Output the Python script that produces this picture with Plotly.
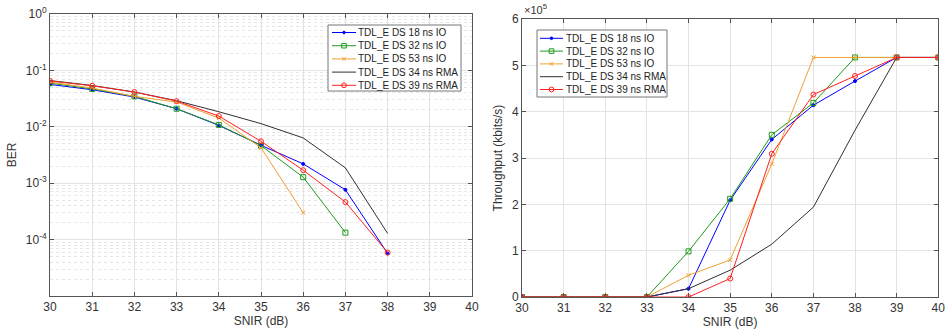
import plotly.graph_objects as go

snir = [30, 31, 32, 33, 34, 35, 36, 37, 38, 39, 40]

# BER (left panel)
ber_x_18 = [30, 31, 32, 33, 34, 35, 36, 37, 38]
ber_18 = [0.0564, 0.0454, 0.0337, 0.0209, 0.0106, 0.00471, 0.0022, 0.000765, 5.7e-5]
ber_x_32 = [30, 31, 32, 33, 34, 35, 36, 37]
ber_32 = [0.0595, 0.047, 0.0346, 0.0209, 0.0108, 0.00465, 0.00128, 0.000133]
ber_x_53 = [30, 31, 32, 33, 34, 35, 36]
ber_53 = [0.062, 0.0486, 0.0346, 0.0275, 0.0143, 0.00423, 0.0003]
ber_x_34 = [30, 31, 32, 33, 34, 35, 36, 37, 38]
ber_34 = [0.066, 0.054, 0.0413, 0.029, 0.0185, 0.0114, 0.00635, 0.00187, 0.000129]
ber_x_39 = [30, 31, 32, 33, 34, 35, 36, 37, 38]
ber_39 = [0.065, 0.0534, 0.0413, 0.0286, 0.0155, 0.00554, 0.0017, 0.000463, 5.9e-5]

# Throughput (right panel), kbits/s
thr_18 = [0, 0, 0, 0, 18000, 209000, 340000, 414000, 466000, 517000, 517000]
thr_32 = [0, 0, 0, 0, 98600, 212000, 350000, 419000, 517000, 517000, 517000]
thr_53 = [0, 0, 0, 0, 47000, 80000, 287000, 517000, 517000, 517000, 517000]
thr_34 = [0, 0, 0, 0, 18000, 58000, 114000, 194000, 360000, 517000, 517000]
thr_39 = [0, 0, 0, 0, 0, 40000, 309000, 437000, 477000, 517000, 517000]

names = ["TDL_E DS 18 ns IO", "TDL_E DS 32 ns IO", "TDL_E DS 53 ns IO",
         "TDL_E DS 34 ns RMA", "TDL_E DS 39 ns RMA"]
colors = ["#0000ff", "#1e9a1e", "#f0a030", "#303030", "#ff2020"]
symbols = ["circle", "square-open", "x-thin-open", None, "circle-open"]
sizes = [3, 5, 4, 0, 5]

ber_x = [ber_x_18, ber_x_32, ber_x_53, ber_x_34, ber_x_39]
ber_y = [ber_18, ber_32, ber_53, ber_34, ber_39]
thr_y = [thr_18, thr_32, thr_53, thr_34, thr_39]

W, H = 945, 333

fig = go.Figure()
for i in range(5):
    mk = dict(color=colors[i], size=sizes[i], symbol=symbols[i] or "circle",
              line=dict(color=colors[i], width=1))
    mode = "lines+markers" if symbols[i] else "lines"
    fig.add_trace(go.Scatter(x=ber_x[i], y=ber_y[i], name=names[i], mode=mode,
                             line=dict(color=colors[i], width=1), marker=mk,
                             xaxis="x", yaxis="y", showlegend=False))
for i in range(5):
    mk = dict(color=colors[i], size=sizes[i], symbol=symbols[i] or "circle",
              line=dict(color=colors[i], width=1))
    mode = "lines+markers" if symbols[i] else "lines"
    fig.add_trace(go.Scatter(x=snir, y=thr_y[i], name=names[i], mode=mode,
                             line=dict(color=colors[i], width=1), marker=mk,
                             xaxis="x2", yaxis="y2", showlegend=False))


def px(x):
    return x / W


def py(y):
    return 1 - y / H


shapes = []
annotations = []


def add_legend(x0, y0, x1, y1, row0, dy, lx0, lx1, tx):
    # compact MATLAB-style legend box drawn in paper coordinates
    shapes.append(dict(type="rect", xref="paper", yref="paper",
                       x0=px(x0), x1=px(x1), y0=py(y1), y1=py(y0),
                       line=dict(color="#777777", width=1), fillcolor="white",
                       layer="above"))
    for i, nm in enumerate(names):
        yc = row0 + i * dy
        shapes.append(dict(type="line", xref="paper", yref="paper",
                           x0=px(lx0), x1=px(lx1), y0=py(yc), y1=py(yc),
                           line=dict(color=colors[i], width=1), layer="above"))
        mc = (lx0 + lx1) / 2
        if symbols[i] == "circle":
            r = 1.3
            shapes.append(dict(type="circle", xref="paper", yref="paper",
                               x0=px(mc - r), x1=px(mc + r), y0=py(yc + r), y1=py(yc - r),
                               line=dict(color=colors[i], width=1),
                               fillcolor=colors[i], layer="above"))
        elif symbols[i] == "square-open":
            r = 2.3
            shapes.append(dict(type="rect", xref="paper", yref="paper",
                               x0=px(mc - r), x1=px(mc + r), y0=py(yc + r), y1=py(yc - r),
                               line=dict(color=colors[i], width=1),
                               fillcolor="rgba(0,0,0,0)", layer="above"))
        elif symbols[i] == "x-thin-open":
            r = 1.8
            for s in (1, -1):
                shapes.append(dict(type="line", xref="paper", yref="paper",
                                   x0=px(mc - r), x1=px(mc + r),
                                   y0=py(yc - s * r), y1=py(yc + s * r),
                                   line=dict(color=colors[i], width=1), layer="above"))
        elif symbols[i] == "circle-open":
            r = 2.4
            shapes.append(dict(type="circle", xref="paper", yref="paper",
                               x0=px(mc - r), x1=px(mc + r), y0=py(yc + r), y1=py(yc - r),
                               line=dict(color=colors[i], width=1),
                               fillcolor="rgba(0,0,0,0)", layer="above"))
        annotations.append(dict(text=nm, xref="paper", yref="paper",
                                x=px(tx), y=py(yc), xanchor="left", yanchor="middle",
                                showarrow=False, font=dict(size=10, color="#222222")))


add_legend(328, 25, 461, 91, 32.5, 13.2, 332, 356, 356)
add_legend(537, 30, 667, 97, 38.3, 12.8, 540, 563, 564)

font = dict(family="Liberation Sans, Arial, sans-serif", size=12, color="#333333")
axcol = "#555555"
gridcol = "#e3e3e3"

minor_vals = []
for k in range(-5, 0):
    for m in range(2, 10):
        minor_vals.append(m * 10 ** k)

xcommon = dict(range=[30, 40], tickvals=snir, showline=True, linecolor=axcol,
               linewidth=1, mirror="ticks", ticks="inside", ticklen=4, tickcolor=axcol,
               showgrid=True, gridcolor=gridcol, zeroline=False, automargin=False,
               ticklabeloverflow="allow",
               tickfont=dict(size=12, color="#333333"))

annotations.append(dict(text="\u00d710<sup>5</sup>", xref="paper", yref="paper",
                        x=0.5524, y=0.945, xanchor="left", yanchor="bottom",
                        showarrow=False, font=dict(size=11, color="#333333")))

fig.update_layout(
    width=W, height=H,
    margin=dict(l=0, r=0, t=0, b=0, autoexpand=False),
    paper_bgcolor="white", plot_bgcolor="white",
    font=font,
    xaxis=dict(domain=[0.0529, 0.4995], anchor="y",
               title=dict(text="SNIR (dB)", standoff=2, font=dict(size=12)), **xcommon),
    yaxis=dict(domain=[0.111, 0.958], anchor="x", type="log", range=[-5, 0],
               tickvals=[1e-4, 1e-3, 1e-2, 1e-1, 1],
               ticktext=["10<sup>-4</sup>", "10<sup>-3</sup>", "10<sup>-2</sup>",
                         "10<sup>-1</sup>", "10<sup>0</sup>"],
               showline=True, linecolor=axcol, linewidth=1, mirror="ticks",
               ticks="inside", ticklen=4, tickcolor=axcol, automargin=False,
               showgrid=True, gridcolor=gridcol, zeroline=False,
               minor=dict(tickvals=minor_vals, showgrid=True, gridcolor="#e6e6e6",
                          griddash="dot", ticks=""),
               title=dict(text="BER", standoff=6, font=dict(size=12)),
               tickfont=dict(size=12, color="#333333")),
    xaxis2=dict(domain=[0.5524, 0.9929], anchor="y2",
                title=dict(text="SNIR (dB)", standoff=2, font=dict(size=12)), **xcommon),
    yaxis2=dict(domain=[0.108, 0.943], anchor="x2", range=[0, 600000],
                tickvals=[0, 100000, 200000, 300000, 400000, 500000, 600000],
                ticktext=["0", "1", "2", "3", "4", "5", "6"],
                showline=True, linecolor=axcol, linewidth=1, mirror="ticks",
                ticks="inside", ticklen=4, tickcolor=axcol, automargin=False,
                showgrid=True, gridcolor=gridcol, zeroline=False,
                title=dict(text="Throughput (kbits/s)", standoff=6, font=dict(size=12)),
                tickfont=dict(size=12, color="#333333")),
    shapes=shapes,
    annotations=annotations,
    showlegend=False,
)

fig.write_html("out.html", config={"displayModeBar": False},
               post_script="document.body.style.margin='0';")
